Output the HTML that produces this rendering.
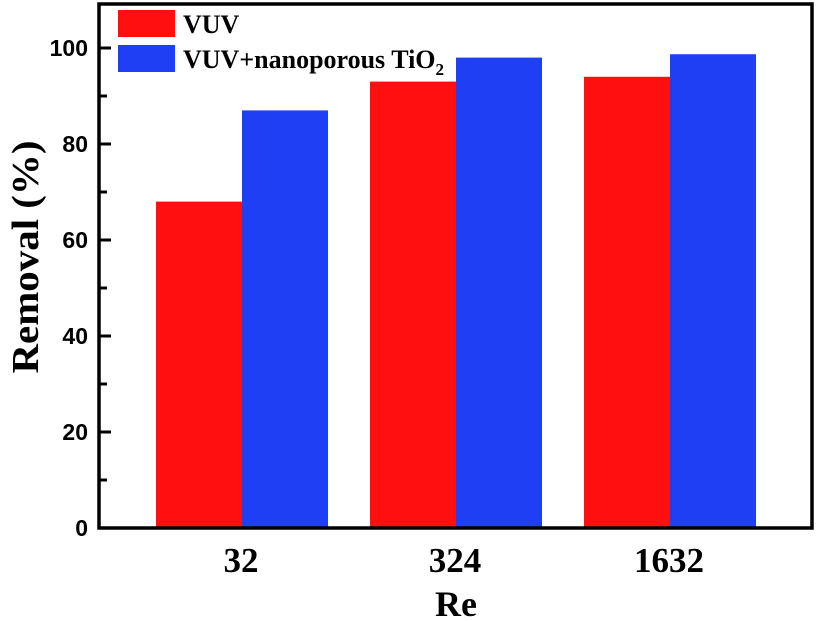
<!DOCTYPE html>
<html><head><meta charset="utf-8"><style>
body{margin:0;background:#fff;width:816px;height:621px;overflow:hidden}
svg{display:block}
</style></head><body>
<svg id="chart" width="816" height="621">
<g id="marks"></g>
<rect x="99" y="4" width="713" height="524" fill="none" stroke="#000" stroke-width="3.5"/>
<g id="yaxis"></g>
<g id="xaxis"></g>
<text x="38" y="257" transform="rotate(-90 38 257)" text-anchor="middle" font-family="Liberation Serif, serif" font-weight="bold" font-size="38" textLength="233" lengthAdjust="spacingAndGlyphs">Removal (%)</text>
<text x="456" y="616" text-anchor="middle" font-family="Liberation Serif, serif" font-weight="bold" font-size="36">Re</text>
<g>
<rect x="118" y="10" width="57" height="27" fill="#ff0f0f"/>
<text x="183" y="33" font-family="Liberation Serif, serif" font-weight="bold" font-size="26">VUV</text>
<rect x="118" y="45" width="57" height="27" fill="#1f3ff5"/>
<text x="183" y="68" font-family="Liberation Serif, serif" font-weight="bold" font-size="26">VUV+nanoporous TiO<tspan font-size="17" dy="7">2</tspan></text>
</g>
</svg>
<script>
const categories=["32","324","1632"];
const vuv=[68,93,94];
const vuvTio2=[87,98,98.7];
const yTicks=[0,20,40,60,80,100];
const yMinor=[10,30,50,70,90];
const NS="http://www.w3.org/2000/svg";
const y=v=>528-v*4.8;
const groupStart=i=>156+i*214;
const bw=86;
const marks=document.getElementById('marks');
function bar(x,v,color,name){
 const r=document.createElementNS(NS,'rect');
 r.setAttribute('x',x);r.setAttribute('y',y(v));r.setAttribute('width',bw);r.setAttribute('height',y(0)-y(v));r.setAttribute('fill',color);
 
 
 marks.appendChild(r);
}
categories.forEach((c,i)=>{
 bar(groupStart(i),vuv[i],'#ff0f0f','bar-vuv-'+c);
 bar(groupStart(i)+bw,vuvTio2[i],'#1f3ff5','bar-vuv-tio2-'+c);
 const t=document.createElementNS(NS,'text');
 t.setAttribute('x',groupStart(i)+bw-1);t.setAttribute('y',572);t.setAttribute('text-anchor','middle');
 t.setAttribute('font-family','Liberation Serif, serif');t.setAttribute('font-weight','bold');t.setAttribute('font-size','35');
 t.textContent=c;
 
 
 document.getElementById('xaxis').appendChild(t);
});
const ya=document.getElementById('yaxis');
yTicks.forEach(v=>{
 const l=document.createElementNS(NS,'line');
 l.setAttribute('x1',99);l.setAttribute('x2',111);l.setAttribute('y1',y(v));l.setAttribute('y2',y(v));l.setAttribute('stroke','#000');l.setAttribute('stroke-width','3');
 
 
 ya.appendChild(l);
 const t=document.createElementNS(NS,'text');
 t.setAttribute('x',88);t.setAttribute('y',y(v)+8);t.setAttribute('text-anchor','end');
 t.setAttribute('font-family','Liberation Sans, sans-serif');t.setAttribute('font-weight','bold');t.setAttribute('font-size','23');
 t.textContent=v;
 
 
 ya.appendChild(t);
});
yMinor.forEach(v=>{
 const l=document.createElementNS(NS,'line');
 l.setAttribute('x1',99);l.setAttribute('x2',107);l.setAttribute('y1',y(v));l.setAttribute('y2',y(v));l.setAttribute('stroke','#000');l.setAttribute('stroke-width','3');
 
 
 ya.appendChild(l);
});
</script>
</body></html>
